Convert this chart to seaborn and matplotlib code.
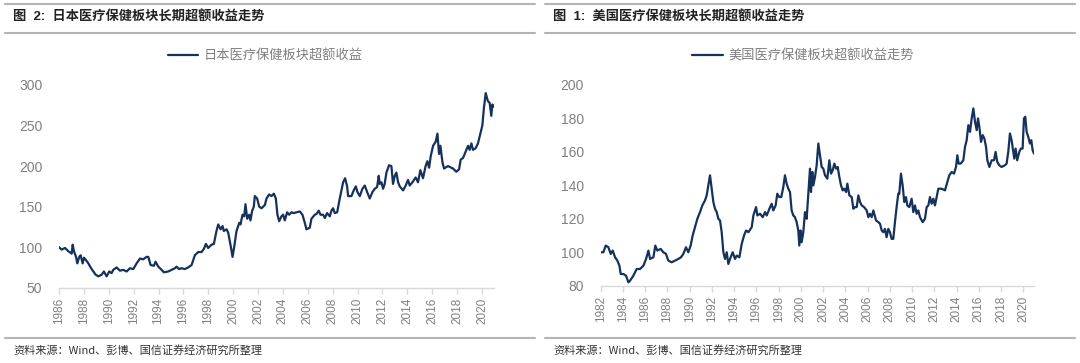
import pandas as pd
import matplotlib.pyplot as plt
import seaborn as sns
from matplotlib.lines import Line2D

# Dados (ano decimal, indice)
jp_year = [1986.00, 1986.21, 1986.48, 1986.75, 1987.02, 1987.10, 1987.20, 1987.37, 1987.47, 1987.63,
           1987.74, 1987.90, 1988.01, 1988.17, 1988.36, 1988.54, 1988.76, 1988.95, 1989.16, 1989.43,
           1989.61, 1989.83, 1990.04, 1990.23, 1990.36, 1990.63, 1990.90, 1991.17, 1991.44, 1991.70,
           1991.97, 1992.24, 1992.51, 1992.77, 1993.04, 1993.18, 1993.36, 1993.63, 1993.76, 1993.98,
           1994.25, 1994.43, 1994.78, 1995.05, 1995.32, 1995.45, 1995.64, 1995.85, 1996.12, 1996.39,
           1996.66, 1996.92, 1997.19, 1997.46, 1997.65, 1997.81, 1997.99, 1998.26, 1998.45, 1998.66,
           1998.80, 1998.99, 1999.15, 1999.25, 1999.47, 1999.60, 1999.82, 1999.95, 2000.08, 2000.27,
           2000.49, 2000.59, 2000.75, 2000.89, 2000.99, 2001.13, 2001.29, 2001.39, 2001.53, 2001.66,
           2001.74, 2001.93, 2002.09, 2002.28, 2002.41, 2002.55, 2002.68, 2002.89, 2003.08, 2003.27,
           2003.43, 2003.56, 2003.70, 2003.88, 2004.02, 2004.15, 2004.34, 2004.50, 2004.69, 2004.88,
           2005.09, 2005.36, 2005.57, 2005.76, 2005.89, 2006.16, 2006.29, 2006.56, 2006.70, 2006.88,
           2007.02, 2007.23, 2007.37, 2007.55, 2007.77, 2007.90, 2008.03, 2008.17, 2008.36, 2008.57,
           2008.84, 2009.00, 2009.16, 2009.24, 2009.51, 2009.69, 2009.86, 2009.99, 2010.18, 2010.39,
           2010.58, 2010.77, 2010.98, 2011.20, 2011.38, 2011.57, 2011.70, 2011.78, 2011.92, 2012.05,
           2012.18, 2012.32, 2012.53, 2012.72, 2012.85, 2012.99, 2013.12, 2013.26, 2013.39, 2013.66,
           2013.87, 2014.06, 2014.19, 2014.41, 2014.67, 2014.86, 2015.05, 2015.26, 2015.47, 2015.61,
           2015.75, 2015.88, 2016.07, 2016.28, 2016.42, 2016.55, 2016.66, 2016.82, 2016.95, 2017.27,
           2017.67, 2017.94, 2018.16, 2018.29, 2018.48, 2018.69, 2018.88, 2019.01, 2019.15, 2019.28,
           2019.49, 2019.68, 2019.87, 2020.03, 2020.16, 2020.30, 2020.48, 2020.62, 2020.75, 2020.83,
           2020.97]
jp_value = [100, 97, 99, 95, 92, 103, 95, 88, 80, 88,
            90, 80, 87, 84, 80, 75, 70, 66, 64, 66,
            70, 64, 70, 68, 72, 75, 71, 72, 70, 74,
            73, 80, 86, 85, 88, 88, 78, 77, 82, 76,
            72, 69, 70, 72, 74, 76, 73, 74, 73, 75,
            78, 90, 94, 94, 98, 104, 99, 103, 104, 120,
            128, 122, 126, 120, 122, 118, 100, 88, 100, 120,
            130, 128, 140, 138, 153, 135, 140, 133, 145, 150,
            163, 160, 150, 148, 150, 152, 160, 165, 163, 166,
            160, 140, 132, 138, 140, 133, 143, 140, 143, 142,
            143, 144, 140, 130, 122, 124, 135, 140, 141, 145,
            140, 140, 136, 142, 138, 145, 148, 142, 143, 160,
            180, 185, 175, 163, 163, 170, 175, 168, 163, 172,
            176, 168, 160, 168, 172, 174, 188, 178, 180, 172,
            178, 192, 201, 200, 178, 188, 192, 180, 175, 170,
            176, 183, 176, 180, 186, 180, 195, 185, 200, 206,
            198, 212, 225, 230, 240, 215, 225, 205, 197, 200,
            197, 193, 196, 208, 210, 218, 225, 220, 228, 220,
            222, 228, 240, 250, 272, 290, 280, 278, 262, 276,
            273]

us_year = [1982.00, 1982.24, 1982.45, 1982.69, 1982.90, 1983.08, 1983.29, 1983.50, 1983.68, 1983.80,
           1984.04, 1984.28, 1984.49, 1984.64, 1984.94, 1985.24, 1985.54, 1985.84, 1986.08, 1986.29,
           1986.44, 1986.74, 1986.91, 1987.09, 1987.39, 1987.63, 1987.87, 1988.08, 1988.38, 1988.68,
           1988.98, 1989.22, 1989.43, 1989.67, 1989.88, 1990.09, 1990.27, 1990.48, 1990.69, 1990.93,
           1991.14, 1991.38, 1991.53, 1991.68, 1991.83, 1991.98, 1992.13, 1992.28, 1992.43, 1992.58,
           1992.73, 1992.88, 1993.03, 1993.18, 1993.33, 1993.48, 1993.63, 1993.87, 1994.08, 1994.23,
           1994.47, 1994.68, 1994.89, 1995.07, 1995.28, 1995.58, 1995.73, 1995.97, 1996.09, 1996.33,
           1996.57, 1996.78, 1996.93, 1997.17, 1997.37, 1997.52, 1997.73, 1997.88, 1998.06, 1998.24,
           1998.42, 1998.57, 1998.72, 1998.87, 1999.02, 1999.17, 1999.32, 1999.47, 1999.62, 1999.77,
           1999.86, 1999.98, 2000.07, 2000.22, 2000.37, 2000.52, 2000.67, 2000.82, 2000.91, 2001.03,
           2001.12, 2001.27, 2001.42, 2001.57, 2001.72, 2001.87, 2002.02, 2002.17, 2002.38, 2002.56,
           2002.71, 2002.86, 2003.01, 2003.16, 2003.31, 2003.46, 2003.61, 2003.76, 2003.91, 2004.06,
           2004.18, 2004.36, 2004.57, 2004.72, 2004.87, 2005.02, 2005.17, 2005.32, 2005.47, 2005.68,
           2005.92, 2006.07, 2006.22, 2006.37, 2006.52, 2006.76, 2006.97, 2007.12, 2007.27, 2007.42,
           2007.56, 2007.71, 2007.86, 2008.01, 2008.16, 2008.31, 2008.46, 2008.61, 2008.76, 2008.85,
           2009.00, 2009.15, 2009.30, 2009.45, 2009.57, 2009.75, 2009.96, 2010.11, 2010.26, 2010.41,
           2010.56, 2010.71, 2010.95, 2011.16, 2011.31, 2011.46, 2011.61, 2011.76, 2011.91, 2012.06,
           2012.21, 2012.36, 2012.66, 2012.96, 2013.17, 2013.35, 2013.56, 2013.77, 2013.95, 2014.07,
           2014.19, 2014.37, 2014.61, 2014.76, 2014.91, 2015.06, 2015.21, 2015.36, 2015.51, 2015.66,
           2015.81, 2015.93, 2016.05, 2016.20, 2016.35, 2016.50, 2016.65, 2016.77, 2016.95, 2017.16,
           2017.37, 2017.51, 2017.66, 2017.84, 2018.05, 2018.35, 2018.50, 2018.65, 2018.80, 2018.95,
           2019.10, 2019.19, 2019.31, 2019.45, 2019.64, 2019.79, 2019.94, 2020.06, 2020.18, 2020.30,
           2020.45, 2020.60, 2020.72, 2020.84, 2020.96]
us_value = [100, 100, 104, 103, 99, 101, 97, 95, 92, 87,
            87, 86, 82, 83, 86, 90, 90, 92, 96, 101,
            96, 97, 104, 101, 102, 100, 99, 95, 94, 95,
            96, 97, 99, 103, 100, 104, 110, 115, 120, 124,
            128, 131, 134, 140, 146, 138, 130, 126, 124, 120,
            119, 112, 100, 96, 100, 93, 96, 100, 96, 98,
            97, 105, 110, 113, 112, 115, 122, 127, 122, 123,
            121, 124, 122, 126, 129, 125, 128, 135, 133, 133,
            139, 146, 141, 138, 136, 125, 122, 121, 118, 113,
            104, 113, 106, 112, 124, 120, 135, 150, 136, 148,
            140, 145, 152, 165, 158, 151, 150, 146, 144, 155,
            147, 149, 153, 150, 151, 145, 140, 137, 138, 136,
            141, 134, 133, 126, 127, 127, 134, 130, 128, 127,
            125, 121, 123, 121, 125, 119, 118, 117, 113, 112,
            114, 109, 114, 112, 108, 108, 118, 127, 135, 135,
            147, 140, 130, 133, 128, 127, 132, 124, 128, 123,
            125, 121, 118, 120, 127, 128, 133, 129, 132, 128,
            133, 138, 138, 137, 142, 146, 148, 147, 151, 158,
            153, 153, 155, 163, 167, 176, 172, 180, 186, 178,
            173, 180, 175, 166, 170, 168, 163, 155, 151, 155,
            155, 160, 154, 152, 151, 152, 153, 160, 171, 167,
            160, 156, 162, 155, 160, 162, 162, 180, 181, 172,
            169, 165, 167, 161, 159]

LINE_COLOR = '#14325c'
GRAY_TEXT = '#808080'
RULE_COLOR = '#b4b4b4'

sns.set_theme(style="white")
plt.rcParams['font.family'] = ['Liberation Sans', 'Noto Sans CJK SC']

fig = plt.figure(figsize=(10.8, 3.63), dpi=100)
W, H = 1080, 363


def fx(px):
    return px / W


def fy(py):
    return 1 - py / H


def draw_panel(rect, years, values, xlim, ylim, yticks, label, legend_x,
               title, x0, x1):
    ax = fig.add_axes(rect)
    df = pd.DataFrame({'year': years, 'value': values})
    sns.lineplot(data=df, x='year', y='value', ax=ax, color=LINE_COLOR,
                 linewidth=1.6, label=label)
    ax.set_xlim(*xlim)
    ax.set_ylim(*ylim)
    ax.set_xticks(range(int(xlim[0]), int(xlim[1]), 2))
    ax.set_xticklabels([str(y) for y in range(int(xlim[0]), int(xlim[1]), 2)],
                       rotation=90)
    ax.set_yticks(yticks)
    ax.set_xlabel('')
    ax.set_ylabel('')
    for s in ['top', 'right', 'left']:
        ax.spines[s].set_visible(False)
    ax.spines['bottom'].set_color('#d9d9d9')
    ax.spines['bottom'].set_linewidth(1.0)
    ax.tick_params(axis='x', colors='#d9d9d9', labelcolor=GRAY_TEXT,
                   length=4, width=1.0, direction='out', bottom=True,
                   labelsize=8.5, pad=3)
    ax.tick_params(axis='y', labelcolor=GRAY_TEXT, length=0, labelsize=10,
                   pad=12)
    ax.legend(frameon=False, loc='center', bbox_to_anchor=(fx(legend_x), fy(56)),
              bbox_transform=fig.transFigure, handlelength=2.3,
              handletextpad=0.4, fontsize=9.5, labelcolor=GRAY_TEXT,
              prop={'family': 'Noto Sans CJK SC', 'size': 9.5})

    # linhas e textos do cabecalho/rodape
    for py in (4, 33, 338):
        fig.add_artist(Line2D([fx(x0), fx(x1)], [fy(py), fy(py)],
                              color=RULE_COLOR, linewidth=1.5))
    fig.text(fx(x0 + 8), fy(17), title, fontsize=9.5, fontweight='bold',
             color='#222222', va='center', ha='left',
             family=['Liberation Sans', 'Noto Sans CJK SC'])
    fig.text(fx(x0 + 8), fy(351), '资料来源：Wind、彭博、国信证券经济研究所整理',
             fontsize=8, color='#333333', va='center', ha='left',
             family=['Noto Sans CJK SC', 'Liberation Sans'])
    return ax


draw_panel([fx(59), fy(287.7), fx(494.4) - fx(59), fy(85) - fy(287.7)],
           jp_year, jp_value, (1986, 2021), (50, 300),
           [50, 100, 150, 200, 250, 300], '日本医疗保健板块超额收益', 265,
           '图  2:  日本医疗保健板块长期超额收益走势', 5, 535)

draw_panel([fx(600.7), fy(285.7), fx(1034.4) - fx(600.7), fy(85) - fy(285.7)],
           us_year, us_value, (1982, 2021), (80, 200),
           [80, 100, 120, 140, 160, 180, 200], '美国医疗保健板块超额收益走势', 803,
           '图  1:  美国医疗保健板块长期超额收益走势', 545, 1075)

plt.savefig('out.png', dpi=100)
